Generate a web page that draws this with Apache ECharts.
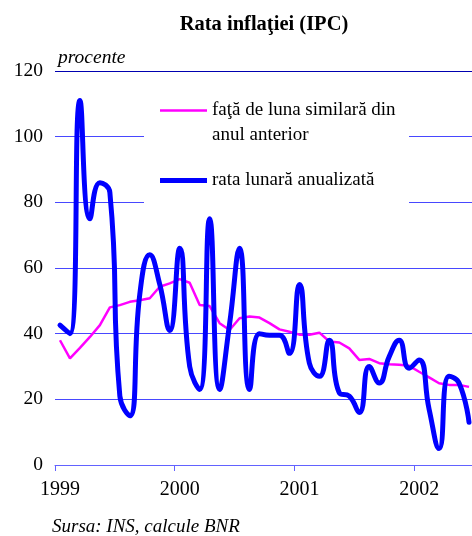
<!DOCTYPE html>
<html>
<head>
<meta charset="utf-8">
<script src="https://cdn.jsdelivr.net/npm/echarts@6/dist/echarts.min.js"></script>
<style>
	html, body { margin: 0; padding: 0; background: #fff; }
	#chart { width: 472px; height: 536px; }
</style>
</head>
<body>
<div id="chart"></div>
<script>
	// luni de la ian. 1999 (punctele stau la mijlocul lunii)
	var years = ['1999', '2000', '2001', '2002'];
	var monthIndex = [];
	for (var i = 0; i < 42; i++) monthIndex.push(i + 0.5);

	// fata de luna similara din anul anterior (%)
	var yoyData = [38, 32.5, 35.7, 39, 42.6, 48, 48.7, 49.7, 50.2, 50.8, 54.3, 55.3,
		56.6, 55.5, 48.7, 48.4, 43.2, 41.1, 44.7, 45.2, 44.9, 43.2, 41.3, 40.6,
		39.7, 39.7, 40.3, 37.6, 37.3, 35.5, 32, 32.3, 31, 30.7, 30.5, 30.2,
		28.4, 26.7, 24.9, 24.4, 24.4, 23.8];
	// rata lunara anualizata (%)
	var monthlyData = [42.6, 40, 111, 75, 86, 83, 21, 15, 52, 64, 55, 41,
		66, 30, 23, 75, 23, 43, 66, 23, 40, 39.5, 39.5, 34,
		55, 31, 27, 38, 22, 21, 16, 30, 25, 33, 38, 29.5,
		32, 17, 5, 27, 25, 13];

	var serif = '"Liberation Serif", "Times New Roman", serif';
	var nameYoy = 'faţă de luna similară din anul anterior';
	var nameMonthly = 'rata lunară anualizată';

	function pairs(vals) {
		return vals.map(function (v, k) { return [monthIndex[k], v]; });
	}

	var chart = echarts.init(document.getElementById('chart'));
	chart.setOption({
		animation: false,
		title: [{
			text: 'Rata inflaţiei (IPC)',
			left: 264,
			textAlign: 'center',
			top: 14,
			padding: 0,
			textStyle: { fontFamily: serif, fontSize: 20.5, fontWeight: 'bold', color: '#000' }
		}, {
			text: 'procente',
			left: 58,
			top: 48,
			padding: 0,
			textStyle: { fontFamily: serif, fontSize: 19.5, fontStyle: 'italic', fontWeight: 'normal', color: '#000' }
		}, {
			text: 'Sursa: INS, calcule BNR',
			left: 52,
			top: 517,
			padding: 0,
			textStyle: { fontFamily: serif, fontSize: 19, fontStyle: 'italic', fontWeight: 'normal', color: '#000' }
		}],
		legend: {
			orient: 'vertical',
			left: 160,
			top: 73,
			padding: 0,
			itemGap: 20,
			itemWidth: 47,
			itemHeight: 14,
			selectedMode: false,
			data: [
				{ name: nameYoy, icon: 'path://M0,0L47,0L47,2.5L0,2.5Z' },
				{ name: nameMonthly, icon: 'path://M0,0L48,0L48,5L0,5Z' }
			],
			formatter: function (name) {
				if (name === nameYoy) return '\nfaţă de luna similară din\nanul anterior';
				return name;
			},
			textStyle: { fontFamily: serif, fontSize: 19, lineHeight: 25, color: '#000' }
		},
		graphic: [{
			type: 'rect',
			z: 1,
			shape: { x: 144, y: 92, width: 265, height: 118 },
			style: { fill: '#fff' }
		}],
		grid: { left: 55, right: 0, top: 71, bottom: 71 },
		xAxis: {
			type: 'value',
			min: 0,
			max: 41.8,
			interval: 12,
			axisLine: { lineStyle: { color: '#6262ff', width: 1 } },
			axisTick: { show: true, length: 6, customValues: [0, 12, 24, 36], lineStyle: { color: '#6262ff' } },
			axisLabel: {
				customValues: [0.5, 12.5, 24.5, 36.5],
				formatter: function (v) { return years[Math.floor(v / 12)]; },
				fontFamily: serif, fontSize: 20, color: '#000', margin: 15
			},
			splitLine: { show: false }
		},
		yAxis: {
			type: 'value',
			min: 0,
			max: 120,
			interval: 20,
			axisLine: { show: false },
			axisTick: { show: false },
			axisLabel: { fontFamily: serif, fontSize: 19.5, color: '#000', margin: 12 },
			splitLine: {
				lineStyle: {
					color: ['#4848ff', '#4848ff', '#4848ff', '#4848ff', '#4848ff', '#4848ff', '#0000b0'],
					width: 1
				}
			}
		},
		series: [{
			name: nameYoy,
			type: 'line',
			symbol: 'none',
			data: pairs(yoyData),
			lineStyle: { color: '#ff00ff', width: 2.5 },
			itemStyle: { color: '#ff00ff' },
			z: 2
		}, {
			name: nameMonthly,
			type: 'line',
			symbol: 'none',
			smooth: 0.5,
			data: pairs(monthlyData),
			lineStyle: { color: '#0000ff', width: 5, cap: 'round', join: 'round' },
			itemStyle: { color: '#0000ff' },
			z: 3
		}]
	});
</script>
</body>
</html>
